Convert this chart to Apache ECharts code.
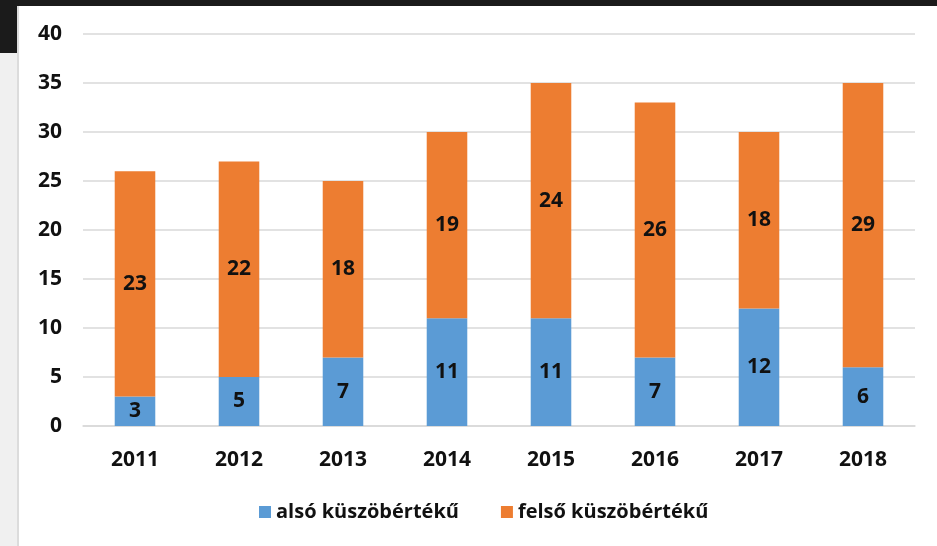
<!DOCTYPE html>
<html>
<head>
<meta charset="utf-8">
<script src="https://cdn.jsdelivr.net/npm/echarts@6/dist/echarts.min.js"></script>
<style>
  html, body { margin: 0; padding: 0; background: #fff; }
  #chart { width: 937px; height: 546px; }
</style>
</head>
<body>
<div id="chart"></div>
<script>
  const years = ['2011', '2012', '2013', '2014', '2015', '2016', '2017', '2018'];
  const also = [3, 5, 7, 11, 11, 7, 12, 6];
  const felso = [23, 22, 18, 19, 24, 26, 18, 29];

  const myChart = echarts.init(document.getElementById('chart'));
  const font = '"Open Sans", sans-serif';

  const option = {
    animation: false,
    textStyle: { fontFamily: font },
    // frame around the picture (screenshot edges)
    graphic: [
      { type: 'rect', z: -10, shape: { x: 0, y: 0, width: 937, height: 6 }, style: { fill: '#1b1b1b' } },
      { type: 'rect', z: -10, shape: { x: 0, y: 0, width: 17, height: 53 }, style: { fill: '#1b1b1b' } },
      { type: 'rect', z: -10, shape: { x: 0, y: 53, width: 17, height: 493 }, style: { fill: '#f0f0f0' } },
      { type: 'rect', z: -10, shape: { x: 17, y: 6, width: 2, height: 540 }, style: { fill: '#dcdcdc' } }
    ],
    legend: {
      data: ['alsó küszöbértékű', 'felső küszöbértékű'],
      left: 254,
      top: 497,
      itemWidth: 12,
      itemHeight: 12,
      itemGap: 42,
      icon: 'rect',
      textStyle: { fontSize: 20, fontWeight: 'bold', color: '#111', fontFamily: font }
    },
    grid: {
      left: 83,
      right: 22,
      top: 34,
      bottom: 120
    },
    xAxis: {
      type: 'category',
      data: years,
      axisLine: { lineStyle: { color: '#d9d9d9', width: 1.5 } },
      axisTick: { show: false },
      axisLabel: { fontSize: 21, fontWeight: 'bold', color: '#111', margin: 24 }
    },
    yAxis: {
      type: 'value',
      min: 0,
      max: 40,
      interval: 5,
      axisLine: { show: false },
      axisTick: { show: false },
      splitLine: { lineStyle: { color: '#d9d9d9', width: 1.5 } },
      axisLabel: { fontSize: 21, fontWeight: 'bold', color: '#111', margin: 21 }
    },
    series: [
      {
        name: 'alsó küszöbértékű',
        type: 'bar',
        stack: 'total',
        barWidth: '39%',
        itemStyle: { color: '#5B9BD5' },
        label: { show: true, position: 'inside', fontSize: 21, fontWeight: 'bold', color: '#111' },
        data: also
      },
      {
        name: 'felső küszöbértékű',
        type: 'bar',
        stack: 'total',
        barWidth: '39%',
        itemStyle: { color: '#ED7D31' },
        label: { show: true, position: 'inside', fontSize: 21, fontWeight: 'bold', color: '#111' },
        data: felso
      }
    ]
  };

  myChart.setOption(option);
</script>
</body>
</html>
